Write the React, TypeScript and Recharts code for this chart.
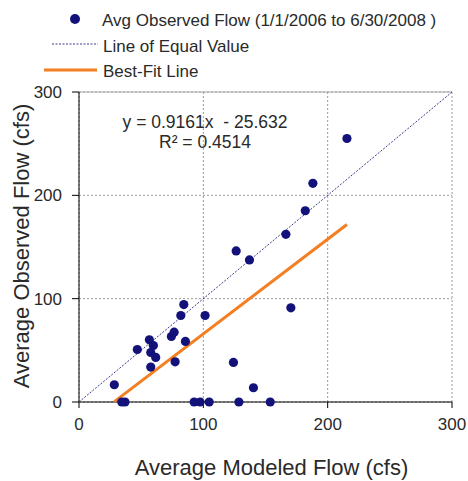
import {
  CartesianGrid,
  ReferenceLine,
  Scatter,
  ScatterChart,
  XAxis,
  YAxis,
} from "recharts";

// values
const modeledFlow = [
  28.4, 34.4, 37.0, 46.9, 56.6, 59.8, 57.7, 61.7, 57.7, 74.3, 76.5, 77.3, 85.6,
  81.9, 84.3, 101.4, 92.6, 97.4, 104.7, 124.2, 128.6, 140.3, 153.8, 170.4,
  215.5, 188.1, 182.0, 166.4, 126.4, 137.1,
];
const observedFlow = [
  16.7, 0, 0, 50.8, 60.2, 54.7, 47.9, 43.1, 33.8, 63.4, 67.6, 38.9, 58.6, 83.7,
  94.3, 83.7, 0, 0, 0, 38.3, 0, 13.8, 0, 91.1, 255.0, 211.6, 185.1, 162.3,
  146.2, 137.5,
];
const axisTicks = [0, 100, 200, 300];
const equalValueEnds = [0, 300];
const fitSlope = 0.9161;
const fitIntercept = -25.632;
const equationText = "y = 0.9161x - 25.632";
const r2Text = "R² = 0.4514";
const seriesNames = [
  "Avg Observed Flow (1/1/2006 to 6/30/2008 )",
  "Line of Equal Value",
  "Best-Fit Line",
];
const xTitle = "Average Modeled Flow (cfs)";
const yTitle = "Average Observed Flow (cfs)";

const FONT = "'Liberation Sans', Arial, sans-serif";
const NAVY = "#12127a";
const ORANGE = "#f47e22";
const DASH_BLUE = "#3b3b8e";
const TEXT = "#2a2a2a";

const points = modeledFlow.map((x, i) => ({ x, y: observedFlow[i] }));
const equalLine = equalValueEnds.map((v) => ({ x: v, y: v }));
const fitEnds = [Math.min(...modeledFlow), Math.max(...modeledFlow)];
const fitLine = fitEnds.map((x) => ({ x, y: fitSlope * x + fitIntercept }));

const noMarker = () => <g />;

function LegendBlock() {
  return (
    <svg
      width={468}
      height={90}
      style={{ position: "absolute", left: 0, top: 0, fontFamily: FONT }}
    >
      <circle cx={75} cy={19} r={5} fill={NAVY} />
      <text x={102} y={25.5} fontSize={17} fill={TEXT}>
        {seriesNames[0]}
      </text>
      <line x1={52} y1={44} x2={98} y2={44} stroke={DASH_BLUE} strokeDasharray="2 1.5" />
      <text x={103} y={51.5} fontSize={17} fill={TEXT}>
        {seriesNames[1]}
      </text>
      <line x1={44} y1={70} x2={97} y2={70} stroke={ORANGE} strokeWidth={3} />
      <text x={103} y={77.2} fontSize={17} fill={TEXT}>
        {seriesNames[2]}
      </text>
    </svg>
  );
}

export default function App() {
  const tick = { fill: TEXT, fontSize: 17, fontFamily: FONT };
  return (
    <div style={{ position: "relative", width: 468, height: 481, background: "#fff" }}>
      <style>{"body{margin:0}"}</style>
      <ScatterChart
        width={468}
        height={481}
        margin={{ top: 92, right: 16, bottom: 0, left: 0 }}
      >
        <CartesianGrid stroke="#9a9a9a" strokeDasharray="2 2" />
        <ReferenceLine y={300} stroke="#a8a8a8" />
        <XAxis
          type="number"
          dataKey="x"
          domain={[0, 300]}
          ticks={axisTicks}
          height={79}
          tickSize={6}
          tickMargin={10}
          stroke="#000"
          tick={tick}
          label={{
            value: xTitle,
            position: "center",
            dx: 6,
            dy: 25.7,
            fill: TEXT,
            fontSize: 22,
            fontFamily: FONT,
          }}
        />
        <YAxis
          type="number"
          dataKey="y"
          domain={[0, 300]}
          ticks={axisTicks}
          width={79}
          tickSize={7}
          tickMargin={10}
          stroke="#000"
          tick={tick}
          label={{
            value: yTitle,
            position: "center",
            angle: -90,
            dx: -18.5,
            dy: -1,
            fill: TEXT,
            fontSize: 22,
            fontFamily: FONT,
          }}
        />
        <Scatter
          data={equalLine}
          line={{ stroke: DASH_BLUE, strokeWidth: 1, strokeDasharray: "2 1.5" }}
          shape={noMarker}
          isAnimationActive={false}
        />
        <Scatter
          data={fitLine}
          line={{ stroke: ORANGE, strokeWidth: 3 }}
          shape={noMarker}
          isAnimationActive={false}
        />
        <Scatter
          data={points}
          fill={NAVY}
          shape={(p: any) => <circle cx={p.cx} cy={p.cy} r={4.6} fill={NAVY} />}
          isAnimationActive={false}
        />
        <text
          x={205}
          y={127.7}
          textAnchor="middle"
          fontSize={17.5}
          fontFamily={FONT}
          fill={TEXT}
          style={{ whiteSpace: "pre" }}
        >
          {equationText.replace(" - ", "  - ")}
        </text>
        <text
          x={205}
          y={148}
          textAnchor="middle"
          fontSize={17.5}
          fontFamily={FONT}
          fill={TEXT}
        >
          {r2Text}
        </text>
      </ScatterChart>
      <LegendBlock />
    </div>
  );
}
